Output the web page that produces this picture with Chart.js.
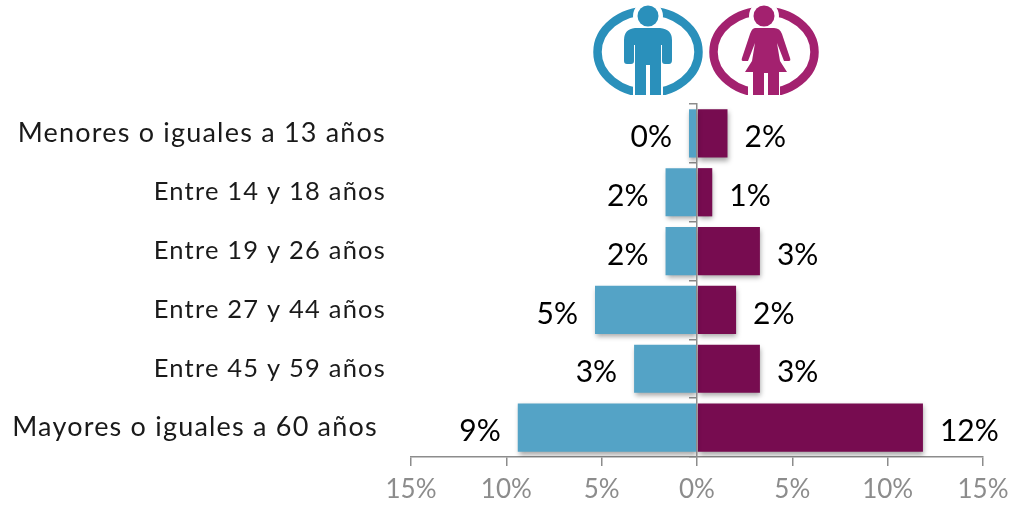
<!DOCTYPE html>
<html><head><meta charset="utf-8">
<style>html,body{margin:0;padding:0;background:#fff;overflow:hidden}
#wrap{position:relative;width:1013px;height:505px}
#icons{position:absolute;left:0;top:0}</style>
<script src="https://cdn.jsdelivr.net/npm/chart.js@4"></script>
</head><body><div id="wrap"><canvas id="c" width="1013" height="505"></canvas>
<svg id="icons" width="1013" height="100" viewBox="0 0 1013 100">
<defs>
<clipPath id="cut"><rect x="0" y="0" width="1013" height="95"/></clipPath>
<path id="manBody" d="M635 28 h25 q12 1 12 12 v20 q0 4 -3 4 h-4 q-3 0 -3 -3 v-16 h-1 v50 h-11 v-30 h-4 v30 h-11 v-50 h-1 v16 q0 3 -3 3 h-4 q-3 0 -3 -3 v-21 q0 -11 11 -12z"/>
<path id="womanBody" d="M755 28 h19 q6 0 8 6 l8 24 q1 3 -1 3 h-5 l-7 -18 l3 18 l7 11 h-8 v23 h-11 v-22 h-4 v22 h-11 v-23 h-8 l7 -11 l3 -18 l-7 18 h-5 q-2 0 -1 -3 l8 -24 q2 -6 5 -6z"/>
</defs>
<g clip-path="url(#cut)">
<ellipse cx="648" cy="52" rx="50.5" ry="41" fill="none" stroke="#2a90bb" stroke-width="8.5"/>
<circle cx="648" cy="16" r="15" fill="#fff"/>
<rect x="633" y="80" width="30" height="20" fill="#fff"/>
<circle cx="648" cy="16" r="10.5" fill="#2a90bb"/>
<use href="#manBody" fill="#2a90bb"/>
<ellipse cx="764" cy="52" rx="50.5" ry="41" fill="none" stroke="#a3216f" stroke-width="8.5"/>
<circle cx="764" cy="16" r="15" fill="#fff"/>
<rect x="748" y="80" width="32" height="20" fill="#fff"/>
<circle cx="764" cy="16" r="10.5" fill="#a3216f"/>
<use href="#womanBody" fill="#a3216f"/>
</g></svg></div>
<script>
const categories = ["Menores o iguales a 13 años","Entre 14 y 18 años","Entre 19 y 26 años","Entre 27 y 44 años","Entre 45 y 59 años","Mayores o iguales a 60 años "];
const menValues = [-0.42,-1.65,-1.65,-5.35,-3.3,-9.4];
const womenValues = [1.6,0.8,3.3,2.05,3.3,11.85];
const menLabels = ["0%","2%","2%","5%","3%","9%"];
const womenLabels = ["2%","1%","3%","2%","3%","12%"];
const FONT = "Lato";
const shadow = {id:'shadow',
 beforeDatasetsDraw(ch){const c=ch.ctx;c.save();c.shadowColor='rgba(0,0,0,.35)';c.shadowBlur=5;c.shadowOffsetX=1;c.shadowOffsetY=3;},
 afterDatasetsDraw(ch){ch.ctx.restore();}};
const spacing = {id:'spacing',
 beforeDraw(ch){ch.ctx.letterSpacing='1.2px';}};
const valueLabels = {id:'valueLabels',
 afterDatasetsDraw(ch){const c=ch.ctx;c.letterSpacing='0px';c.save();c.shadowColor='transparent';c.fillStyle='#000';c.font='30px '+FONT;c.textBaseline='middle';
  [[0,menLabels,'right',-17],[1,womenLabels,'left',17]].forEach(([i,l,a,d])=>{
   ch.getDatasetMeta(i).data.forEach((b,k)=>{c.textAlign=a;c.fillText(l[k],b.x+d,b.y+4);});});
  c.restore();},
 afterDraw(ch){ch.ctx.letterSpacing='0px';}};
new Chart(document.getElementById('c'),{type:'bar',
 data:{labels:categories,datasets:[
  {label:'Hombres',data:menValues,backgroundColor:'#54a3c6',yAxisID:'y'},
  {label:'Mujeres',data:womenValues,backgroundColor:'#770c50',yAxisID:'y'}]},
 plugins:[spacing,shadow,valueLabels],
 options:{indexAxis:'y',responsive:false,animation:false,
  layout:{padding:{left:0,right:30,top:104,bottom:0}},
  plugins:{legend:{display:false},tooltip:{enabled:false}},
  datasets:{bar:{barPercentage:.82,categoryPercentage:1}},
  scales:{
   x:{stacked:true,min:-15,max:15,position:'bottom',
      afterFit(s){s.height=48;s.paddingLeft=0;s.paddingRight=0;},
      grid:{drawOnChartArea:false,tickColor:'#8c8c8c',tickLength:9,lineWidth:1.5},
      border:{color:'#8c8c8c',width:1.5},
      ticks:{z:1,stepSize:5,padding:8,maxRotation:0,autoSkip:false,color:'#8c8c8c',font:{family:FONT,size:26},
        callback:v=>Math.abs(v)+'%'}},
   y:{stacked:true,position:'left',
      afterFit(s){s.width=411;},
      grid:{display:false,drawTicks:false,tickLength:0},border:{display:false},
      ticks:{color:'#1a1a1a',padding:25,autoSkip:false,
        font:c=>({family:FONT,size:(c.index>=1&&c.index<=4)?25.5:27})}},
   y2:{type:'category',labels:categories,position:{x:0},
      grid:{drawOnChartArea:false,offset:true,tickColor:'#8c8c8c',tickLength:7,lineWidth:1.5},
      border:{color:'#8c8c8c',width:1.5,z:2},
      ticks:{display:false}}
  }}});
</script></body></html>
